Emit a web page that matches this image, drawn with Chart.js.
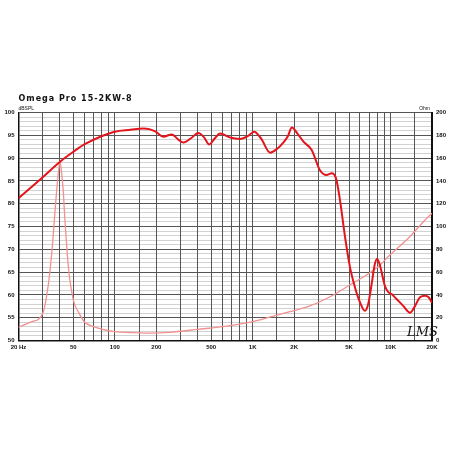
<!DOCTYPE html>
<html>
<head>
<meta charset="utf-8">
<script src="https://cdn.jsdelivr.net/npm/chart.js@4"></script>
<style>
  html, body { margin: 0; padding: 0; background: #fff; }
</style>
</head>
<body>
<canvas id="chart" width="450" height="450"></canvas>
<script>
// SPL response (dB)
const splFreq = [20, 30, 40, 50, 60, 80, 100, 130, 160, 180, 198, 225, 259, 290, 314, 355, 404, 445, 484, 530, 580, 686, 812, 920, 1026, 1150, 1340, 1500, 1668, 1800, 1924, 2100, 2336, 2680, 3070, 3432, 3746, 4020, 4300, 4680, 5080, 5520, 6000, 6520, 6890, 7300, 7700, 8000, 8380, 9100, 9640, 10180, 11060, 12360, 13840, 15080, 16380, 17800, 18900, 20000];
const splDb   = [81.2, 85.8, 89.2, 91.4, 93.0, 94.8, 95.8, 96.2, 96.5, 96.3, 95.8, 94.7, 95.2, 94.0, 93.4, 94.3, 95.5, 94.5, 93.0, 94.3, 95.4, 94.5, 94.2, 94.8, 95.8, 94.3, 91.2, 92.0, 93.4, 94.8, 96.7, 95.5, 93.6, 91.8, 87.4, 86.3, 86.7, 85.6, 80.8, 72.7, 66.1, 61.7, 58.4, 56.5, 58.0, 62.4, 66.8, 67.9, 66.5, 62.0, 60.6, 60.2, 59.1, 57.6, 56.1, 57.6, 59.5, 59.8, 59.5, 58.3];

// impedance (Ohm)
const zFreq = [20, 25, 30, 33, 35, 37, 38, 39, 40, 41, 42.2, 43.3, 46, 50, 55, 60, 70, 80, 100, 130, 180, 250, 400, 650, 1000, 1670, 2600, 3850, 5300, 6700, 8400, 9600, 13800, 17800, 20000];
const zOhm  = [11.6, 16.5, 23.9, 50, 79, 117, 134, 148, 157, 148, 132, 108.6, 64.7, 35.5, 24, 16.5, 12.1, 10, 7.7, 7, 6.5, 7.2, 9.8, 12.7, 16.5, 23.9, 30.3, 39.9, 50.2, 57.5, 66.2, 73.5, 91, 105.7, 111.6];

const xTickValues = [20, 50, 100, 200, 500, 1000, 2000, 5000, 10000, 20000];
const xTickText   = ['20 Hz', '50', '100', '200', '500', '1K', '2K', '5K', '10K', '20K'];

const title = 'Omega Pro 15-2KW-8';
const labelFont = { family: 'Liberation Sans', size: 6, weight: 'bold' };

const extraText = {
  id: 'extraText',
  afterDraw(chart) {
    const ctx = chart.ctx;
    const a = chart.chartArea;
    ctx.save();
    ctx.fillStyle = '#111';
    ctx.font = 'bold 8px "DejaVu Sans"';
    ctx.letterSpacing = '1px';
    ctx.fillText(title, a.left, 101);
    ctx.letterSpacing = '0px';
    ctx.font = '5px "Liberation Sans"';
    ctx.fillText('dBSPL', a.left, 110);
    ctx.textAlign = 'right';
    ctx.fillText('Ohm', a.right - 2, 110);
    ctx.textAlign = 'left';
    ctx.font = 'italic 13px "DejaVu Serif"';
    ctx.fillText('LMS', 407, 336);
    ctx.restore();
  }
};

new Chart(document.getElementById('chart').getContext('2d'), {
  type: 'line',
  data: {
    datasets: [{
      label: 'SPL',
      data: splFreq.map((f, i) => ({ x: f, y: splDb[i] })),
      yAxisID: 'y',
      borderColor: '#e3141b',
      borderWidth: 2,
      cubicInterpolationMode: 'monotone',
      pointRadius: 0
    }, {
      label: 'Impedance',
      data: zFreq.map((f, i) => ({ x: f, y: zOhm[i] })),
      yAxisID: 'y2',
      borderColor: '#f39090',
      borderWidth: 1.3,
      cubicInterpolationMode: 'monotone',
      pointRadius: 0
    }]
  },
  options: {
    responsive: false,
    animation: false,
    layout: { padding: { top: 112.5, left: 0, right: 0, bottom: 0 } },
    plugins: { legend: { display: false }, tooltip: { enabled: false } },
    scales: {
      x: {
        type: 'logarithmic',
        min: 20,
        max: 20000,
        afterFit: s => { s.height = 109.5; },
        border: { color: '#111', width: 1.5 },
        grid: { color: '#555', lineWidth: 1, drawTicks: false },
        ticks: {
          autoSkip: false,
          maxRotation: 0,
          padding: 3,
          color: '#111',
          font: labelFont,
          callback: v => {
            const i = xTickValues.indexOf(Math.round(v));
            return i >= 0 ? xTickText[i] : '';
          }
        }
      },
      y: {
        position: 'left',
        min: 50,
        max: 100,
        afterFit: s => { s.width = 18.5; },
        border: { color: '#111', width: 1.5 },
        grid: {
          z: -2,
          drawTicks: false,
          lineWidth: 1,
          color: c => (c.tick.value % 5 === 0 ? '#555' : '#d2d2d2')
        },
        ticks: {
          stepSize: 1,
          autoSkip: false,
          maxTicksLimit: 100,
          padding: 4,
          color: '#111',
          font: labelFont,
          callback: v => (v % 5 === 0 ? v : '')
        }
      },
      y2: {
        position: 'right',
        min: 0,
        max: 200,
        afterFit: s => { s.width = 18; },
        border: { color: '#111', width: 2 },
        grid: { drawOnChartArea: false, drawTicks: false },
        ticks: {
          stepSize: 20,
          autoSkip: false,
          padding: 4,
          color: '#111',
          font: labelFont
        }
      }
    }
  },
  plugins: [extraText]
});
</script>
</body>
</html>
